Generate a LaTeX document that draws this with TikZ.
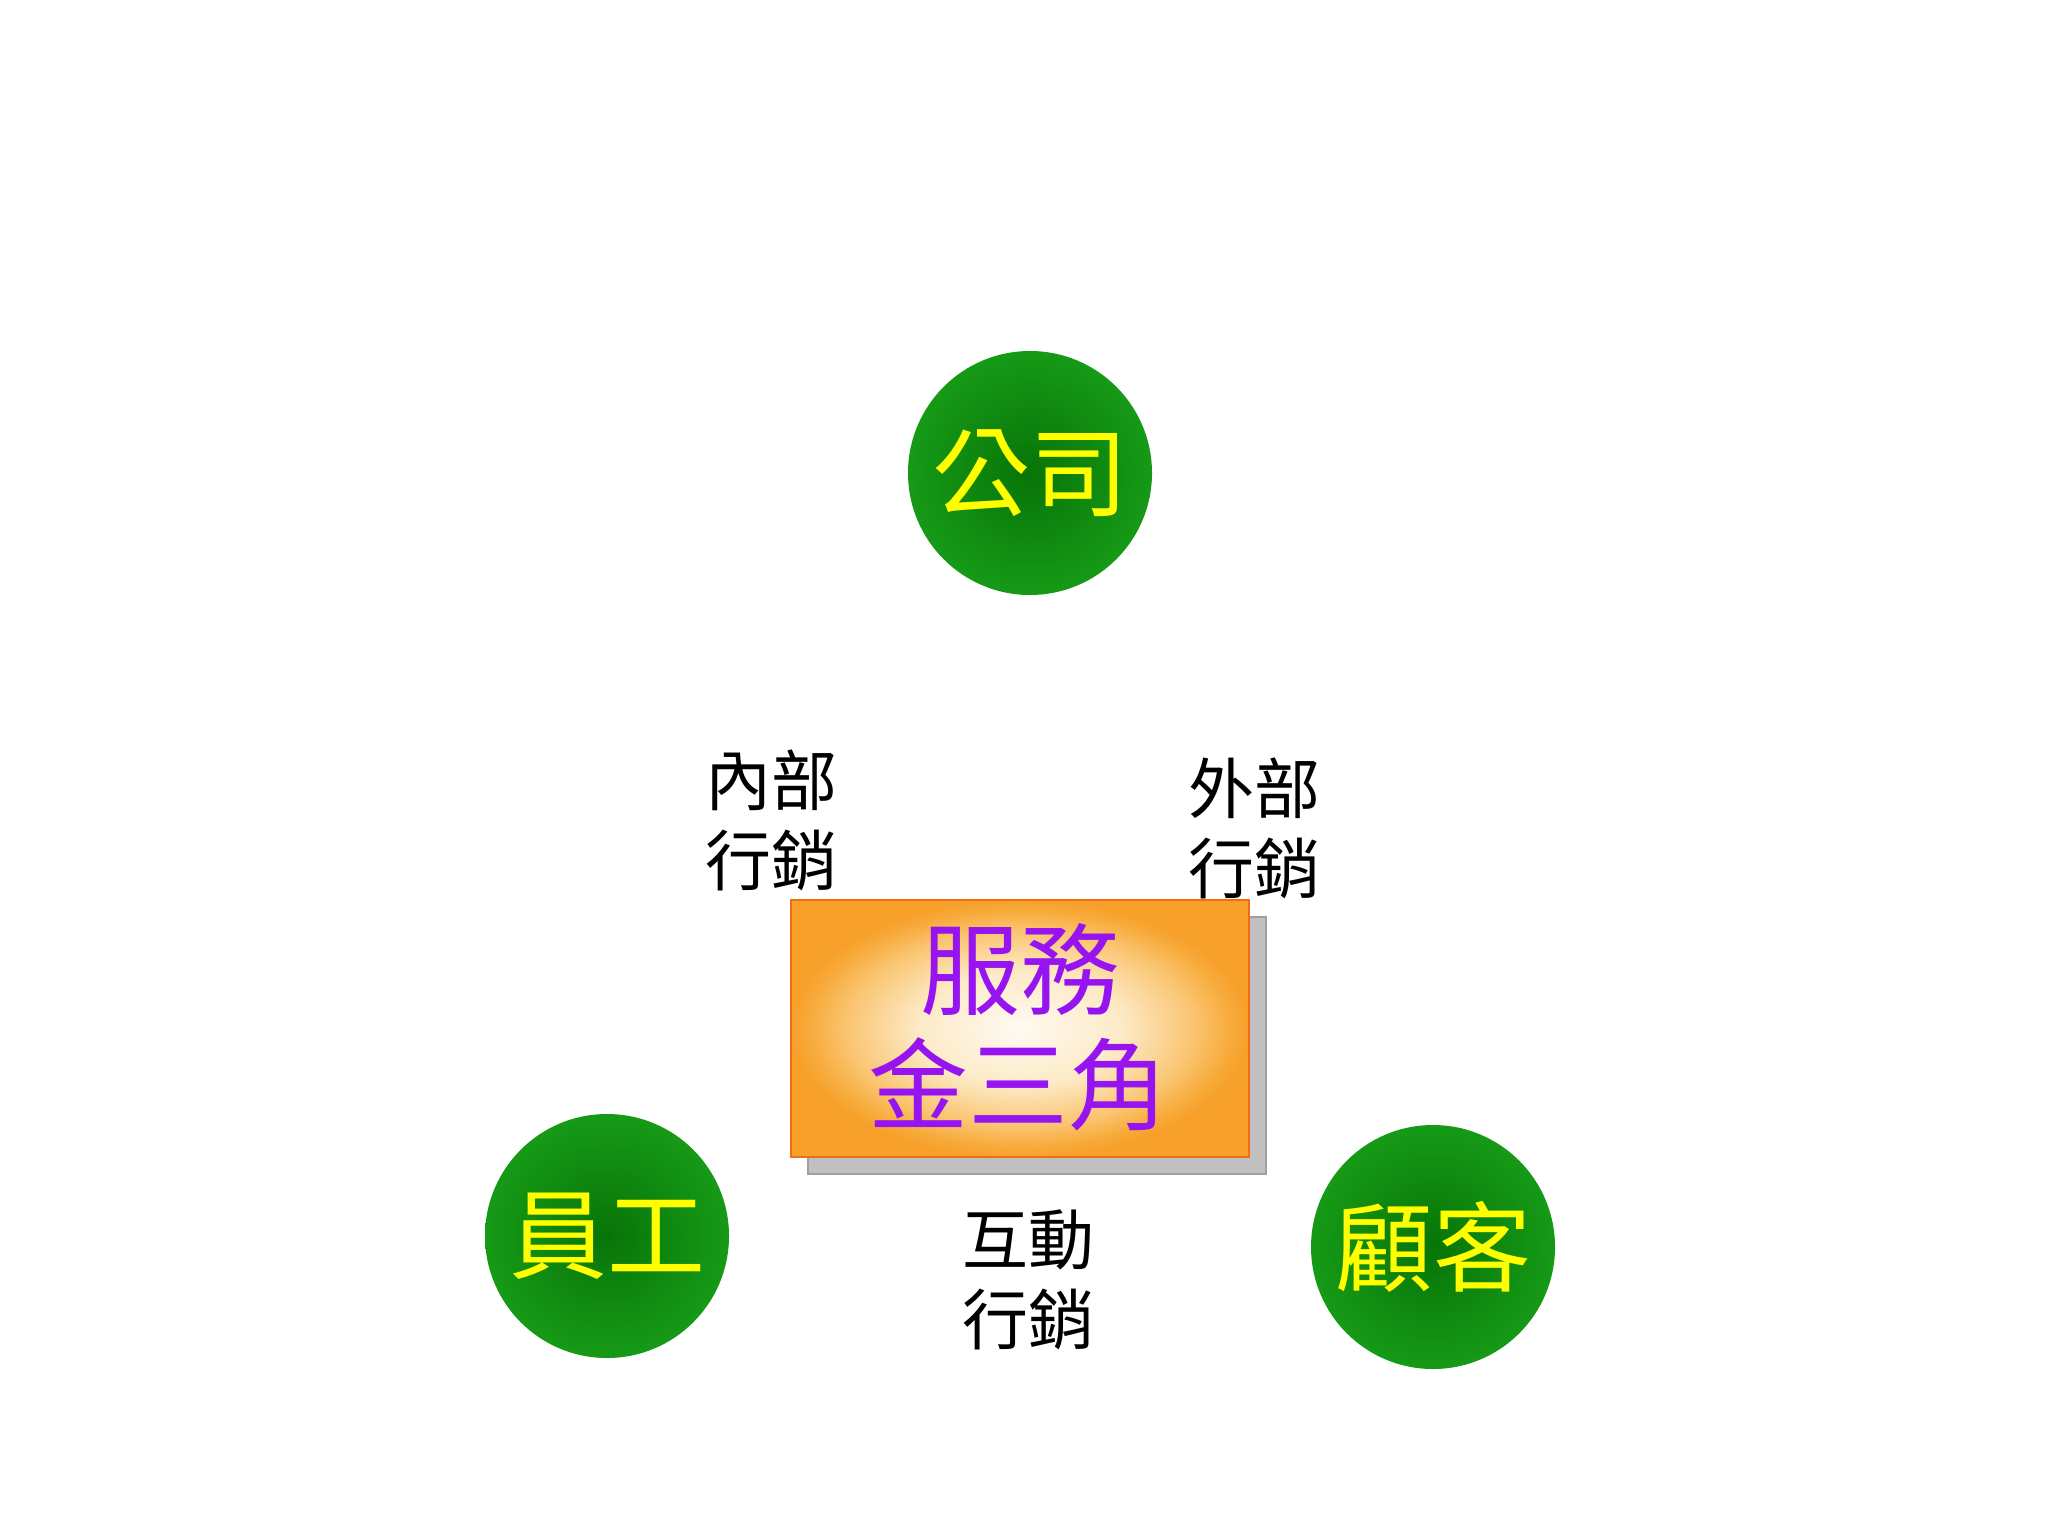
\documentclass[tikz,border=0pt]{standalone}
\usepackage{fontspec}
\newfontfamily\cjk{Noto Sans CJK TC}
\definecolor{circout}{RGB}{22,154,22}
\definecolor{circin}{RGB}{8,116,8}
\definecolor{circyellow}{RGB}{255,255,0}
\definecolor{boxpurple}{RGB}{150,20,240}
\definecolor{boxedge}{RGB}{240,110,20}
\definecolor{shadowgray}{RGB}{192,192,192}
\definecolor{shadowedge}{RGB}{160,160,160}
\pgfdeclareradialshading{orangeglow}{\pgfpoint{0bp}{0bp}}{%
  rgb(0bp)=(1,0.98,0.95);
  rgb(11bp)=(0.99,0.92,0.78);
  rgb(19bp)=(0.98,0.77,0.44);
  rgb(23bp)=(0.97,0.67,0.23);
  rgb(25bp)=(0.97,0.63,0.17);
  rgb(50bp)=(0.97,0.63,0.17)}
\tikzset{
  party/.style={circle, minimum size=122pt, inner sep=0pt,
    inner color=circin, outer color=circout,
    font=\cjk\fontsize{49}{55}\selectfont, text=circyellow},
  sidelabel/.style={align=center, inner sep=0pt,
    font=\cjk\fontsize{33}{40}\selectfont, text=black},
  goldbox/.style={rectangle, minimum width=229pt, minimum height=128.5pt,
    inner sep=0pt, shading=orangeglow, draw=boxedge, line width=0.8pt},
  shadowbox/.style={rectangle, minimum width=229pt, minimum height=128.5pt,
    inner sep=0pt, fill=shadowgray, draw=shadowedge, line width=0.6pt},
  boxtext/.style={align=center, inner sep=0pt,
    font=\cjk\fontsize{50}{58}\selectfont, text=boxpurple}
}
\begin{document}
\begin{tikzpicture}[x=0.5pt,y=-0.5pt]
\useasboundingbox (0,0) rectangle (2048,1536);
\fill[white] (0,0) rectangle (2048,1536);
% circles
\node[party] (company) at (1030,473) {公司};
\node[party] (staff) at (607,1236) {員工};
\node[party] (customer) at (1433,1247) {顧客};
% labels
\node[sidelabel] (internal) at (771,820) {內部\\行銷};
\node[sidelabel] (external) at (1254,828) {外部\\行銷};
\node[sidelabel] (interactive) at (1028,1280) {互動\\行銷};
% central box
\node[shadowbox] (boxshadow) at (1037,1045.5) {};
\node[goldbox] (centerbox) at (1020,1028.5) {};
\node[boxtext] (title1) at (1020,969) {服務};
\node[boxtext] (title2) at (1018,1084) {金三角};
\end{tikzpicture}
\end{document}
